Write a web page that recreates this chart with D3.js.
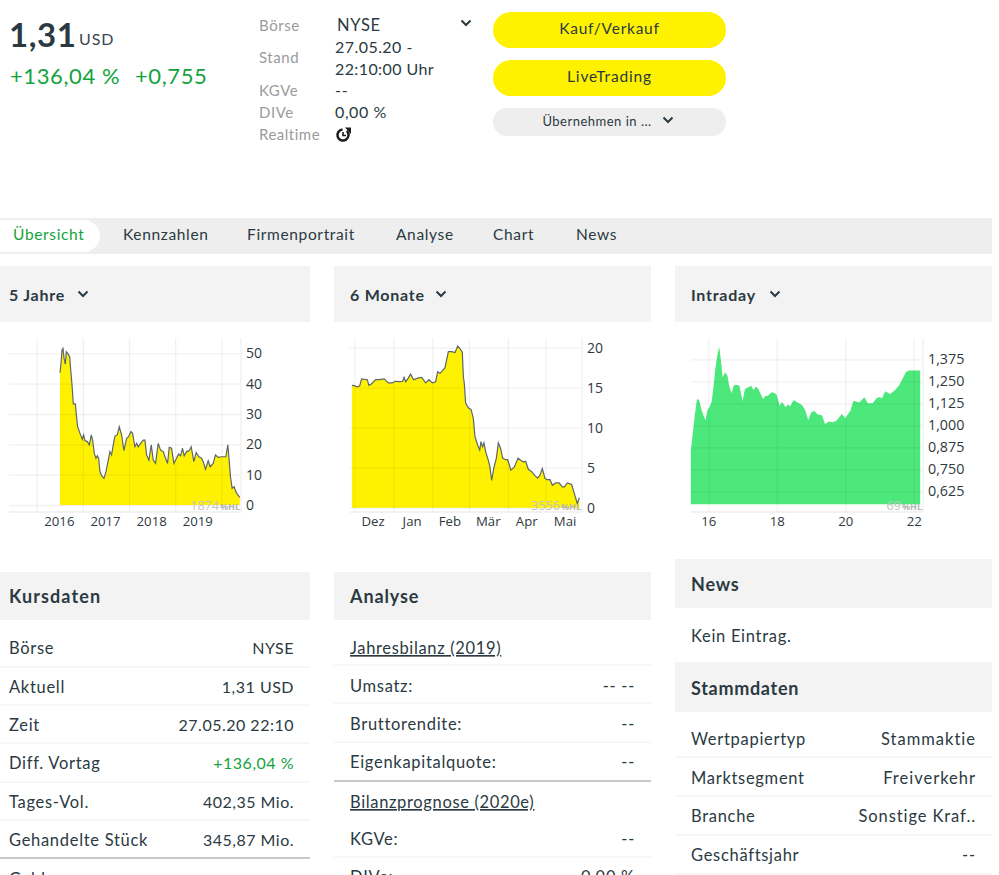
<!DOCTYPE html>
<html><head><meta charset="utf-8">
<script src="https://cdn.jsdelivr.net/npm/d3@7/dist/d3.min.js"></script>
<style>
html,body{margin:0;padding:0;background:#fff;overflow:hidden}
svg{display:block}
text{font-family:Lato,sans-serif;fill:#2b3a42}
.ax text{font-family:"Open Sans",sans-serif;fill:#2f3a40}
</style></head><body><svg id="s" width="999" height="875"></svg>
<script>
// ---------- chart data ----------
const fiveYearX=[.505,.527,.548,.570,.592,.620,.642,.678,.714,.736,.765,.794,.837,.859,.887,.938,.988,1.017,1.046,1.097,1.140,1.183,1.212,1.248,1.284,1.313,1.342,1.371,1.407,1.457,1.501,1.551,1.587,1.623,1.659,1.696,1.746,1.789,1.840,1.890,1.948,1.991,2.042,2.078,2.128,2.165,2.201,2.251,2.309,2.345,2.381,2.431,2.482,2.525,2.576,2.633,2.684,2.742,2.792,2.835,2.872,2.922,2.973,3.030,3.074,3.117,3.160,3.196,3.247,3.304,3.348,3.405,3.456,3.514,3.571,3.608,3.658,3.716,3.759,3.824,3.874,3.932,4.004,4.098,4.141,4.170,4.199,4.235,4.278,4.315,4.358,4.401];
const fiveYearY=[43.6,46.7,51.1,51.6,48.4,46.4,50.5,49.8,48.9,44.7,39.6,33.3,33.3,29.7,25.8,23.6,21.6,23.1,21.2,20.9,19.8,23.1,21.4,17,15.4,16.2,15.4,11,9.7,8.8,11,14.8,17.6,16.5,19.8,22.7,23.1,25.8,23.1,17.9,22,22.5,24.2,23.6,19.2,20.3,19.2,20.3,21.4,21.4,16.5,14.8,19.8,14.8,13.7,20.3,18.1,17.6,15.4,13.7,19,18.7,13.7,15.4,16.8,16.2,18.7,16.2,17.6,17.9,19.2,14.3,17.3,15.9,15.4,14.3,11.8,14.6,12.6,13.7,16.5,15.7,15.9,15.9,19.8,14.8,9.3,5.5,6,4.4,3.3,2.5];
const fiveYearGrid=[0,1,2,3,4];
const fiveYearLabelPos=[.48,1.48,2.48,3.48];
const fiveYearLabels=["2016","2017","2018","2019"];
const fiveYearTicks=[0,10,20,30,40,50];

const sixMonthX=[-1.9,0,2.1,4.2,5.8,10.3,11.6,13.8,16.9,19.6,23.8,27,30.2,32.3,36.3,38.4,39.5,40.8,42.9,44.7,47.1,50.3,53.5,56.7,59.3,62,64.6,66.2,68,69.4,72,74.7,77.3,80,82.1,83.9,85.8,86.6,87.4,88.4,90.5,92.7,94.5,95.8,98,99.6,100.6,101.9,103,104.3,105.9,107.5,109.1,110.7,112.8,114.4,116.2,117.8,120.2,121.8,124.4,127.1,130,132.4,134.5,136.1,138.2,140.9,143.5,145.6,147.5,149.3,151.4,153,155.4,157.3,159.9,162.6,165.2,166.8,169.2,172.6,174.7,177.1,178.7];
const sixMonthY=[15.3,15.25,15.1,15.2,16.1,16,15.3,15.5,16,16,16.1,15.6,15.6,15.8,15.75,15.8,16.3,15.75,16.2,16.7,16,16.2,16.3,15.6,16,15.6,15.75,17,16.8,17,17.5,19.5,19.5,19.4,20.2,19.9,19.4,16.4,15.5,13.1,12.5,12.3,11.2,8.9,7.8,7.2,8.25,7.6,8.1,7,6.2,5.3,3.4,4.9,6.2,8.1,7.4,6.2,6,6,4.7,5.1,6.2,5.9,5.7,5.8,4.8,4.5,4,3.7,4.1,4.9,3.7,3.5,3.5,2.8,3.1,3.1,2.6,2.6,3.1,2.9,1.8,.5,1.25];
const sixMonthGrid=[0,31,62,91,122,152];
const sixMonthLabelPos=[14.5,45.5,75.5,106,136.5,167];
const sixMonthLabels=["Dez","Jan","Feb","Mär","Apr","Mai"];
const sixMonthTicks=[0,5,10,15,20];

const intradayX=[15.49,15.56,15.61,15.67,15.73,15.81,15.86,15.92,15.97,16.04,16.10,16.16,16.21,16.27,16.32,16.37,16.42,16.49,16.56,16.61,16.68,16.74,16.80,16.91,16.96,17.00,17.07,17.17,17.25,17.32,17.39,17.46,17.53,17.60,17.66,17.75,17.85,17.93,18.00,18.08,18.16,18.26,18.32,18.40,18.49,18.61,18.73,18.83,18.92,19.00,19.09,19.20,19.32,19.41,19.53,19.64,19.75,19.90,20.00,20.15,20.24,20.41,20.56,20.66,20.80,20.92,21.02,21.07,21.17,21.31,21.46,21.58,21.67,21.77,21.85,22.19];
const intradayY=[.856,.979,1.064,1.15,1.144,1.083,1.055,1.03,1.083,1.106,1.136,1.235,1.33,1.405,1.447,1.367,1.273,1.301,1.282,1.225,1.182,1.225,1.231,1.225,1.178,1.136,1.206,1.216,1.225,1.2,1.22,1.206,1.178,1.15,1.165,1.169,1.188,1.184,1.172,1.112,1.133,1.102,1.117,1.11,1.144,1.129,1.117,1.087,1.03,1.072,1.083,1.061,1.057,1.008,1.021,1.017,1.027,1.064,1.042,1.083,1.14,1.129,1.159,1.125,1.125,1.155,1.161,1.152,1.193,1.178,1.2,1.229,1.263,1.301,1.311,1.311];
const intradayGrid=[16,18,20,22];
const intradayLabels=["16","18","20","22"];
const intradayTicks=[.625,.75,.875,1,1.125,1.25,1.375];

// ---------- page text ----------
const tabs=["Übersicht","Kennzahlen","Firmenportrait","Analyse","Chart","News"];
const kursLabels=["Börse","Aktuell","Zeit","Diff. Vortag","Tages-Vol.","Gehandelte Stück","Geld"];
const kursValues=["NYSE","1,31 USD","27.05.20 22:10","+136,04 %","402,35 Mio.","345,87 Mio.",""];
const stammLabels=["Wertpapiertyp","Marktsegment","Branche","Geschäftsjahr"];
const stammValues=["Stammaktie","Freiverkehr","Sonstige Kraf..","--"];

const svg=d3.select("#s");
const GREEN="#12a33c",YEL="#fff200",GRID="rgba(0,0,0,.055)",DARK="#2b3a42",GREY="#9b9b9b";
function T(x,y,t,o={}){
  const e=svg.append("text").attr("x",x).attr("y",y).text(t)
   .style("font-size",(o.s||16.5)+"px").style("fill",o.c||DARK)
   .style("letter-spacing",(o.ls==null?.7:o.ls)+"px");
  if(o.a)e.attr("text-anchor",o.a);
  if(o.w)e.style("font-weight",o.w);
  return e;
}
function R(x,y,w,h,c,r){return svg.append("rect").attr("x",x).attr("y",y).attr("width",w).attr("height",h).attr("fill",c).attr("rx",r||0);}
function HL(x1,x2,y,c,w){svg.append("line").attr("x1",x1).attr("x2",x2).attr("y1",y).attr("y2",y).attr("stroke",c||"#eee").attr("stroke-width",w||1);}
function Chev(cx,cy,c){svg.append("path").attr("d",`M${cx-4.5},${cy-2.5}L${cx},${cy+2}L${cx+4.5},${cy-2.5}`).attr("fill","none").attr("stroke",c||DARK).attr("stroke-width",2);}

// ---------- header ----------
T(9,47,"1,31",{s:33,w:700,ls:.6});
T(79,45,"USD",{s:16,ls:.9,c:"#3a464d"});
T(10,84,"+136,04 %",{s:22,c:GREEN,ls:.6});
T(135,84,"+0,755",{s:22,c:GREEN,ls:.6});
T(259,31,"Börse",{s:15,c:GREY,ls:.55});T(337,31,"NYSE",{s:16.5});Chev(466,23);
T(259,63,"Stand",{s:15,c:GREY,ls:.55});T(335,53,"27.05.20 -",{s:16,ls:.45});T(335,75,"22:10:00 Uhr",{s:16,ls:.4});
T(259,96,"KGVe",{s:15,c:GREY,ls:.55});T(335,96,"--",{s:16});
T(259,118,"DIVe",{s:15,c:GREY,ls:.55});T(335,118,"0,00 %",{s:16,ls:.6});
T(259,140,"Realtime",{s:15,c:GREY,ls:.5});
svg.append("path").attr("d",d3.arc()({innerRadius:4.3,outerRadius:6.8,startAngle:.75,endAngle:6.2})).attr("transform","translate(343,135)").attr("fill","#1c1c1c");
svg.append("path").attr("d","M345,127.5L351,127.5L351,134Z").attr("fill","#1c1c1c");
svg.append("path").attr("d","M343,132V135.5H346").attr("fill","none").attr("stroke","#1c1c1c").attr("stroke-width",1.6);

R(493,12,233,36,YEL,18);T(609.5,34,"Kauf/Verkauf",{s:15.5,a:"middle",ls:.75});
R(493,60,233,36,YEL,18);T(609.5,82,"LiveTrading",{s:15.5,a:"middle",ls:.85});
R(493,108,233,28,"#eeeeee",14);T(597,126,"Übernehmen in ...",{s:13,a:"middle",ls:.5});Chev(668,120);

// ---------- tabs ----------
R(0,218,992,36,"#eeeeee");
svg.append("path").attr("d","M0,220H84a16,16 0 0 1 0,32H0Z").attr("fill","#fff");
const tabX=[13,123,247,396,493,576];
tabs.forEach((t,i)=>T(tabX[i],240,t,{s:15.5,c:i?DARK:GREEN,ls:.65}));

// ---------- panel heads ----------
[[0,310,"5 Jahre",83],[334,317,"6 Monate",441],[675,317,"Intraday",775]].forEach(([x,w,t,c])=>{
  R(x,266,w,56,"#f3f3f3");T(x+(x?16:9),301,t,{s:16,w:700,ls:.75});Chev(c,294);
});

// ---------- charts ----------
function chart(o){
  const g=svg.append("g");
  const x=o.x,y=o.y;
  const pts=o.xs.map((d,i)=>[d,o.ys[i]]);
  g.append("path").datum(pts).attr("fill",o.fill)
    .attr("d",d3.area().x(d=>x(d[0])).y0(y(o.base)).y1(d=>y(d[1])));
  g.append("g").call(d3.axisBottom(x).tickValues(o.grid).tickSize(o.bottom-o.top).tickFormat(""))
    .attr("transform",`translate(0,${o.top})`).call(s=>s.select(".domain").remove())
    .selectAll("line").attr("stroke",GRID).attr("stroke-width",1.3);
  g.append("g").call(d3.axisLeft(y).tickValues(o.yt).tickSize(o.right-o.left).tickFormat(""))
    .attr("transform",`translate(${o.right},0)`).call(s=>s.select(".domain").remove())
    .selectAll("line").attr("stroke",GRID).attr("stroke-width",1.3);
  HL(o.left,o.right,o.bottom,"#eeeeee",1.3);
  g.append("line").attr("x1",o.right).attr("x2",o.right).attr("y1",o.top).attr("y2",o.bottom).attr("stroke","#f0f0f0").attr("stroke-width",1.3);
  if(o.stroke) g.append("path").datum(pts).attr("fill","none").attr("stroke",o.stroke).attr("stroke-width",1.2)
    .attr("d",d3.line().x(d=>x(d[0])).y(d=>y(d[1])));
  g.append("g").attr("class","ax").attr("transform",`translate(${o.right},0)`)
    .call(d3.axisRight(y).tickValues(o.yt).tickSize(0).tickPadding(o.pad).tickFormat(o.yf))
    .call(s=>s.select(".domain").remove()).selectAll("text").style("font-size",o.yfs+"px");
  g.append("g").attr("class","ax").attr("transform",`translate(0,${o.bottom})`)
    .call(d3.axisBottom(x).tickValues(o.lp).tickSize(0).tickPadding(5).tickFormat((d,i)=>o.ll[i]))
    .call(s=>s.select(".domain").remove()).selectAll("text").style("font-size","13.2px");
  const w=svg.append("text").attr("x",o.right-1).attr("y",510).attr("text-anchor","end").style("font-family","'Open Sans'");
  w.append("tspan").text(o.mark).style("fill","#c4c4c0").style("font-size","12.5px");
  w.append("tspan").text("%HL").style("fill","#b5b5b5").style("font-size","9px").style("font-weight",700).attr("dx",1);
}
const dec=d3.format(".3f");
chart({x:d3.scaleLinear().domain([0,4]).range([36.7,221.3]),y:d3.scaleLinear().domain([0,50]).range([505,353.3]),
 xs:fiveYearX,ys:fiveYearY,base:0,fill:YEL,stroke:"#5d666c",grid:fiveYearGrid,yt:fiveYearTicks,lp:fiveYearLabelPos,ll:fiveYearLabels,
 top:338,bottom:512,left:9,right:241,pad:5,yf:d=>d,yfs:14,mark:"1874"});
chart({x:d3.scaleLinear().domain([0,152]).range([354.3,545.7]),y:d3.scaleLinear().domain([0,20]).range([507.7,347.7]),
 xs:sixMonthX,ys:sixMonthY,base:0,fill:YEL,stroke:"#5d666c",grid:sixMonthGrid,yt:sixMonthTicks,lp:sixMonthLabelPos,ll:sixMonthLabels,
 top:338,bottom:512,left:350,right:582,pad:5,yf:d=>d,yfs:14,mark:"3556"});
chart({x:d3.scaleLinear().domain([16,22]).range([708.3,913.7]),y:d3.scaleLinear().domain([.625,1.375]).range([491.3,359.3]),
 xs:intradayX,ys:intradayY,base:.551,fill:"#4de87c",stroke:null,grid:intradayGrid,yt:intradayTicks,lp:intradayGrid,ll:intradayLabels,
 top:338,bottom:512,left:691,right:923,pad:5,yf:d=>dec(d).replace(".",","),yfs:14.3,mark:"69"});

// ---------- Kursdaten ----------
R(0,572,310,48,"#f3f3f3");T(9,603,"Kursdaten",{s:18,w:700,ls:1.1});
const kursY=[654,693,731,769,808,846,885];
kursLabels.forEach((t,i)=>{T(9,kursY[i],t);if(kursValues[i])T(294,kursY[i],kursValues[i],{a:"end",c:i==3?GREEN:DARK,s:16,ls:.5});});
[667,705,743,782,820].forEach(y=>HL(0,310,y));HL(0,310,858,"#c8c8c8",2);

// ---------- Analyse ----------
R(334,572,317,48,"#f3f3f3");T(350,603,"Analyse",{s:18,w:700,ls:.9});
T(350,654,"Jahresbilanz (2019)",{ls:.65}).style("text-decoration","underline");
T(350,692,"Umsatz:");T(635,692,"-- --",{a:"end"});
T(350,730,"Bruttorendite:");T(635,730,"--",{a:"end"});
T(350,768,"Eigenkapitalquote:");T(635,768,"--",{a:"end"});
T(350,808,"Bilanzprognose (2020e)",{ls:.65}).style("text-decoration","underline");
T(350,845,"KGVe:");T(635,845,"--",{a:"end"});
T(350,883,"DIVe:");T(635,883,"0,00 %",{a:"end"});
[665,703,742].forEach(y=>HL(334,651,y));HL(334,651,781,"#c8c8c8",2);HL(334,651,857);

// ---------- News / Stammdaten ----------
R(675,559,317,49,"#f3f3f3");T(691,591,"News",{s:18,w:700,ls:.8});
T(691,642,"Kein Eintrag.");
R(675,662,317,50,"#f3f3f3");T(691,695,"Stammdaten",{s:18,w:700,ls:.7});
const stammY=[745,784,822,861];
stammLabels.forEach((t,i)=>{T(691,stammY[i],t);T(976,stammY[i],stammValues[i],{a:"end",ls:i<2?1:.9});});
[757,796,835,874].forEach(y=>HL(675,992,y));
</script></body></html>
